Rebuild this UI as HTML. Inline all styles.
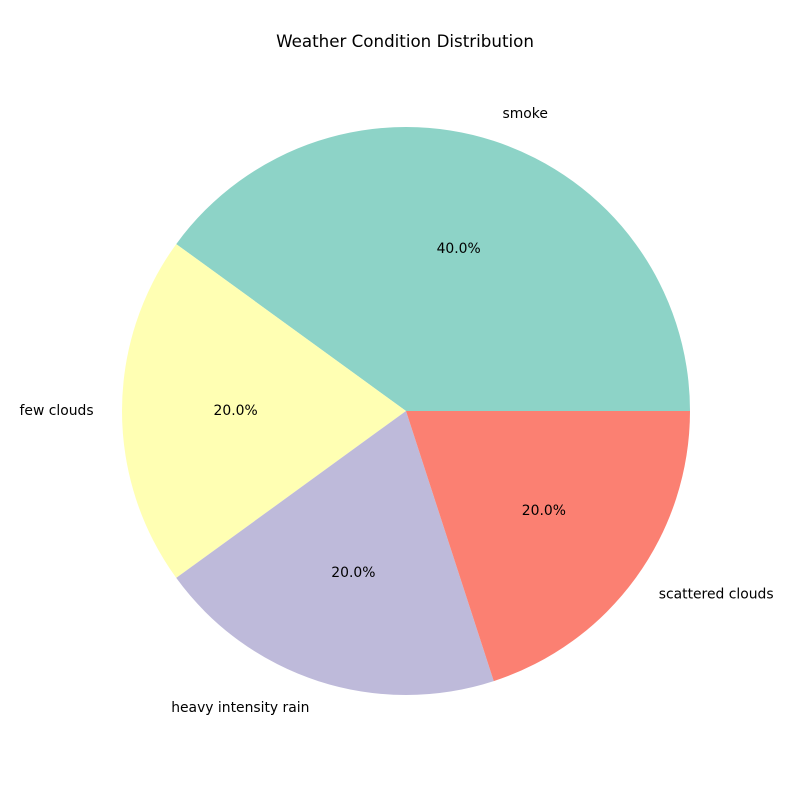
<!DOCTYPE html>
<html><head><meta charset="utf-8"><style>
html,body{margin:0;padding:0;background:#fff}
svg text{font-family:"DejaVu Sans","Liberation Sans",sans-serif}
</style></head><body>
<svg id="chart" width="800" height="800" viewBox="0 0 800 800">
<rect width="800" height="800" fill="#fff"/>
<text x="405" y="47" text-anchor="middle" font-size="16.7" fill="#000">Weather Condition Distribution</text>
<g id="slices"></g>
</svg>
<script>
const categories = ["smoke", "few clouds", "heavy intensity rain", "scattered clouds"];
const values = [40, 20, 20, 20];
const colors = ["#8dd3c7", "#ffffb3", "#bebada", "#fb8072"];
const cx = 406, cy = 411, r = 284;
const svg = document.getElementById('slices');
const NS = 'http://www.w3.org/2000/svg';
const total = values.reduce((a,b)=>a+b,0);
function pt(angDeg, rad){const a=angDeg*Math.PI/180;return [cx+rad*Math.cos(a), cy-rad*Math.sin(a)];}
let start = 0;
values.forEach((v,i)=>{
  const sweep = v/total*360, end = start+sweep;
  const [x1,y1]=pt(start,r),[x2,y2]=pt(end,r);
  const p=document.createElementNS(NS,'path');
  p.setAttribute('d',`M${cx},${cy} L${x1},${y1} A${r},${r} 0 ${sweep>180?1:0} 0 ${x2},${y2} Z`);
  p.setAttribute('fill',colors[i]);
  
  
  svg.appendChild(p);
  const mid=(start+end)/2;
  const [lx,ly]=pt(mid,r*1.1);
  const t=document.createElementNS(NS,'text');
  t.setAttribute('x',lx);t.setAttribute('y',ly+4);t.setAttribute('font-size','13.9');
  t.setAttribute('text-anchor',Math.cos(mid*Math.PI/180)>=0?'start':'end');
  t.textContent=categories[i];
  
  
  svg.appendChild(t);
  const [px,py]=pt(mid,r*0.6);
  const q=document.createElementNS(NS,'text');
  q.setAttribute('x',px);q.setAttribute('y',py+4);q.setAttribute('font-size','13.9');
  q.setAttribute('text-anchor','middle');
  q.textContent=(v/total*100).toFixed(1)+'%';
  
  
  svg.appendChild(q);
  start=end;
});
</script>
</body></html>
